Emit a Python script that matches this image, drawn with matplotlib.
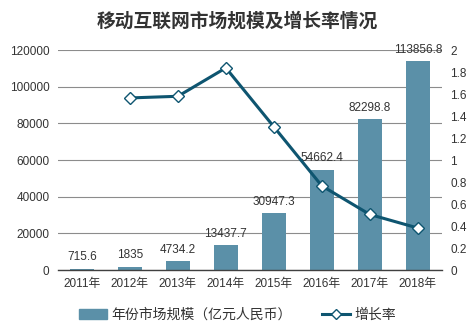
import numpy as np
import matplotlib.pyplot as plt
from matplotlib.lines import Line2D
from matplotlib.patches import Patch

plt.rcParams['font.family'] = ['Liberation Sans', 'Noto Sans CJK SC', 'DejaVu Sans']

# data
years = ['2011年', '2012年', '2013年', '2014年', '2015年', '2016年', '2017年', '2018年']
market = [715.6, 1835, 4734.2, 13437.7, 30947.3, 54662.4, 82298.8, 113856.8]
growth = [None, 1.565, 1.580, 1.838, 1.303, 0.766, 0.506, 0.383]
market_labels = ['715.6', '1835', '4734.2', '13437.7', '30947.3', '54662.4', '82298.8', '113856.8']

BAR = '#5b90a8'
LINE = '#0e5570'
GRID = '#8c8c8c'

fig = plt.figure(figsize=(4.75, 3.36), dpi=100)
ax = fig.add_axes([0.122, 0.196, 0.808, 0.655])
x = np.arange(len(years))

ax.bar(x, market, width=0.5, color=BAR, zorder=2)
for xi, v, lab in zip(x, market, market_labels):
    ax.annotate(lab, (xi, v), xytext=(0, 4), textcoords='offset points',
                ha='center', va='bottom', fontsize=8.5, color='#333333', zorder=4)

ax.set_xlim(-0.5, len(years) - 0.5)
ax.set_ylim(0, 120000)
ax.set_yticks(np.arange(0, 120001, 20000))
ax.yaxis.grid(True, color=GRID, linewidth=0.8, zorder=0)
ax.set_axisbelow(True)
ax.set_xticks(x)
ax.set_xticklabels(years)
ax.tick_params(axis='both', length=0, labelsize=8.5, colors='#333333', pad=6)
for s in ['top', 'right', 'left']:
    ax.spines[s].set_visible(False)
ax.spines['bottom'].set_color('#404040')
ax.spines['bottom'].set_linewidth(1.0)

ax2 = ax.twinx()
gx = [xi for xi, g in zip(x, growth) if g is not None]
gy = [g for g in growth if g is not None]
ax2.plot(gx, gy, color=LINE, linewidth=2.2, marker='D', markersize=6,
         markerfacecolor='white', markeredgecolor=LINE, markeredgewidth=1.0, zorder=3)
ax2.set_ylim(0, 2)
ax2.set_yticks(np.arange(0, 2.01, 0.2))
ax2.set_yticklabels(['0', '0.2', '0.4', '0.6', '0.8', '1', '1.2', '1.4', '1.6', '1.8', '2'])
ax2.tick_params(axis='y', length=0, labelsize=8.5, colors='#333333', pad=6)
for s in ax2.spines.values():
    s.set_visible(False)

fig.suptitle('移动互联网市场规模及增长率情况', x=0.5, y=0.965, fontsize=13.5,
             fontweight='bold', color='#333333')

handles = [Patch(color=BAR),
           Line2D([0], [0], color=LINE, linewidth=2.2, marker='D', markersize=5,
                  markerfacecolor='white', markeredgecolor=LINE)]
fig.legend(handles, ['年份市场规模（亿元人民币）', '增长率'], loc='center',
           bbox_to_anchor=(0.5, 0.063), ncol=2, frameon=False, fontsize=10,
           handlelength=2.0, columnspacing=2.2, handletextpad=0.3,
           labelcolor='#333333')

fig.savefig('out.png', dpi=100)
